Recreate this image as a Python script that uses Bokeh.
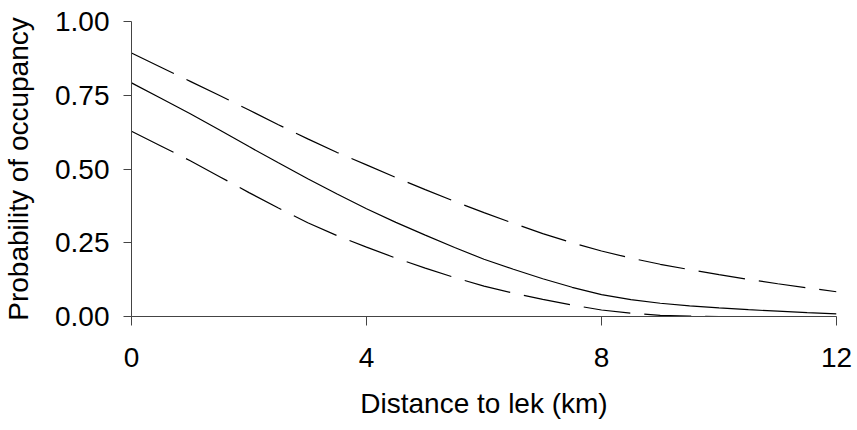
from bokeh.plotting import figure
from bokeh.models import Range1d, FixedTicker
from bokeh.embed import file_html
from bokeh.resources import INLINE

# Distance to lek (km) and fitted occupancy with confidence bounds
distance_km = [0, 0.5, 1, 1.5, 2, 2.5, 3, 3.5, 4, 4.5, 5, 5.5, 6,
               6.5, 7, 7.5, 8, 8.5, 9, 9.5, 10, 10.5, 11, 11.5, 12]
occupancy = [0.792, 0.740, 0.687, 0.632, 0.576, 0.521, 0.467, 0.415, 0.365, 0.319, 0.276, 0.234, 0.194,
             0.160, 0.128, 0.099, 0.074, 0.057, 0.045, 0.036, 0.029, 0.023, 0.018, 0.013, 0.009]
upper_ci = [0.893, 0.845, 0.797, 0.749, 0.700, 0.650, 0.602, 0.556, 0.514, 0.471, 0.430, 0.390, 0.352,
            0.316, 0.281, 0.250, 0.222, 0.198, 0.177, 0.159, 0.142, 0.126, 0.111, 0.097, 0.084]
lower_ci = [0.628, 0.578, 0.528, 0.474, 0.420, 0.368, 0.318, 0.274, 0.235, 0.198, 0.164, 0.132, 0.103,
            0.079, 0.058, 0.039, 0.022, 0.011, 0.004, 0.001, 0.0, 0.0, 0.0, 0.0, 0.0]

x_ticks = [0, 4, 8, 12]
y_ticks = [0.0, 0.25, 0.5, 0.75, 1.0]
y_tick_labels = {0.0: "0.00", 0.25: "0.25", 0.5: "0.50", 0.75: "0.75", 1.0: "1.00"}

FONT = "Liberation Sans"
FONT_SIZE = "28px"

p = figure(width=857, height=430, output_backend="svg", toolbar_location=None,
           x_range=Range1d(0, 12), y_range=Range1d(0, 1),
           min_border_left=130, min_border_right=21, min_border_top=21, min_border_bottom=114)
p.outline_line_color = None
p.xgrid.visible = False
p.ygrid.visible = False
p.background_fill_color = "white"
p.border_fill_color = "white"

p.line(distance_km, upper_ci, line_color="black", line_width=1.2, line_dash="47 14")
p.line(distance_km, lower_ci, line_color="black", line_width=1.2, line_dash="47 14")
p.line(distance_km, occupancy, line_color="black", line_width=1.2)

for ax in (p.xaxis[0], p.yaxis[0]):
    ax.axis_line_color = "#444444"
    ax.axis_line_width = 1
    ax.major_tick_line_color = "#444444"
    ax.major_tick_in = 0
    ax.minor_tick_line_color = None
    ax.major_label_text_font = FONT
    ax.major_label_text_font_size = FONT_SIZE
    ax.major_label_text_color = "black"
    ax.axis_label_text_font = FONT
    ax.axis_label_text_font_size = FONT_SIZE
    ax.axis_label_text_font_style = "normal"
    ax.axis_label_text_color = "black"

p.xaxis.ticker = FixedTicker(ticks=x_ticks)
p.xaxis.major_tick_out = 9
p.xaxis.major_label_standoff = 22
p.xaxis.axis_label = "Distance to lek (km)"
p.xaxis.axis_label_standoff = 18

p.yaxis.ticker = FixedTicker(ticks=y_ticks)
p.yaxis.major_label_overrides = y_tick_labels
p.yaxis.major_tick_out = 8
p.yaxis.major_label_standoff = 14
p.yaxis.axis_label = "Probability of occupancy"
p.yaxis.axis_label_standoff = 18

open("out.html", "w").write(file_html(p, INLINE))
